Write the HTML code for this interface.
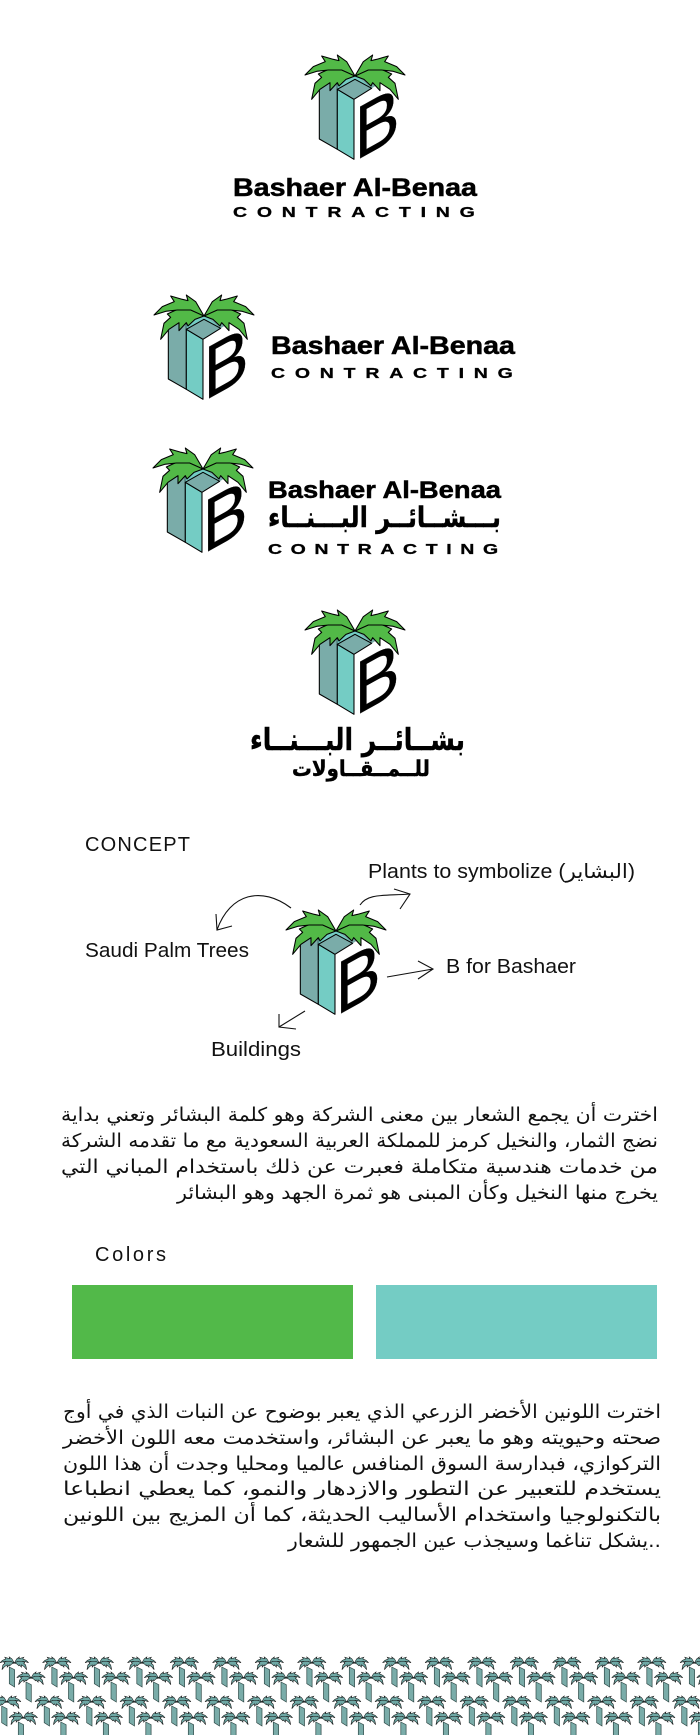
<!DOCTYPE html>
<html><head><meta charset="utf-8"><style>
html,body{margin:0;padding:0;background:#fff}
svg{display:block}
.b{font-family:"Liberation Sans",sans-serif;font-weight:700;fill:#000}
.n{font-family:"Liberation Sans","DejaVu Sans",sans-serif;fill:#111}
.ar{font-family:"DejaVu Sans",sans-serif;fill:#111;font-size:19px}
.abd{font-family:"DejaVu Sans",sans-serif;font-weight:700;fill:#000;stroke:#000;stroke-width:.4}
</style></head><body>
<svg xmlns="http://www.w3.org/2000/svg" width="700" height="1735" viewBox="0 0 700 1735">
<defs>
<g id="half">
<path d="M465,138L425,118L385,118L355,132L365,142L345,160L335,208L360,178L390,158L390,182L412,158L417,168L438,148Z"/>
<path d="M465,138L440,95L412,75L417,92L400,88L365,78L376,95L340,110L315,135L350,124L385,120L425,120Z"/>
</g>
<g id="fr"><use href="#half"/><use href="#half" transform="translate(930,0) scale(-1,1)"/></g>
<g id="logo" transform="translate(200,30) scale(.3333)" stroke="#000" stroke-width="3.2" stroke-linejoin="round">
<polygon points="480,135 560,125 570,140 515,175 465,148" fill="#7aaca9" stroke="none"/>
<polygon points="358,170 412,150 412,358 358,327" fill="#7aaca9"/>
<polygon points="412,150 465,135 512,172 462,208 412,185" fill="#74ccc4" stroke="none"/>
<polygon points="412,178 462,208 462,388 412,358" fill="#74ccc4"/>
<text transform="matrix(.9,-.5,0,1,464,394)" font-family="Liberation Sans" font-size="225" fill="#000" stroke-width="1">B</text>
<use href="#fr" fill="#52b947"/>
<polygon points="412,178 465,148 515,175 462,208" fill="#7aaca9"/>
</g>
<g id="p">
<polygon points="-5,10 .3,12.7 .3,30 -5,26.7" fill="#7aaca9" stroke="#2f4a48" stroke-width=".7"/>
<g transform="scale(.095) translate(-465,-75)" fill="#6fa8a5" stroke="#111" stroke-width="6"><use href="#fr"/></g>
</g>
<g id="c2"><use href="#p"/><use href="#p" x="42.5"/></g>
<g id="c4"><use href="#c2"/><use href="#c2" x="85"/></g>
<g id="c8"><use href="#c4"/><use href="#c4" x="170"/></g>
<g id="c16"><use href="#c8"/><use href="#c8" x="340"/></g>
</defs>

<!-- logo 1 -->
<use href="#logo"/>
<text class="b" x="233" y="196" font-size="25" textLength="244" lengthAdjust="spacingAndGlyphs" stroke="#000" stroke-width=".5">Bashaer Al-Benaa</text>
<text class="b" transform="translate(233,217) scale(1.3,1)" font-size="15" textLength="186" lengthAdjust="spacing" stroke="#000" stroke-width=".3">CONTRACTING</text>

<!-- logo 2 -->
<use href="#logo" transform="translate(-151,240)"/>
<text class="b" x="271" y="354" font-size="25" textLength="244" lengthAdjust="spacingAndGlyphs" stroke="#000" stroke-width=".5">Bashaer Al-Benaa</text>
<text class="b" transform="translate(271,378) scale(1.3,1)" font-size="15" textLength="186" lengthAdjust="spacing" stroke="#000" stroke-width=".3">CONTRACTING</text>

<!-- logo 3 -->
<use href="#logo" transform="translate(-152,393)"/>
<text class="b" x="268" y="498" font-size="24" textLength="233" lengthAdjust="spacingAndGlyphs" stroke="#000" stroke-width=".5">Bashaer Al-Benaa</text>
<text class="abd" x="501" y="527" font-size="28" direction="rtl" textLength="233" lengthAdjust="spacingAndGlyphs">بـــشــائــر البـــنــاء</text>
<text class="b" transform="translate(268,554) scale(1.3,1)" font-size="15" textLength="177" lengthAdjust="spacing" stroke="#000" stroke-width=".3">CONTRACTING</text>

<!-- logo 4 -->
<use href="#logo" transform="translate(0,555)"/>
<text class="abd" x="465" y="750" font-size="30" direction="rtl" textLength="215" lengthAdjust="spacingAndGlyphs">بشــائــر البـــنــاء</text>
<text class="abd" x="430" y="776" font-size="22" direction="rtl" textLength="138" lengthAdjust="spacingAndGlyphs">للــمــقــاولات</text>

<!-- concept -->
<text class="n" x="85" y="851" font-size="20" textLength="105" lengthAdjust="spacing">CONCEPT</text>
<use href="#logo" transform="translate(-19,855)"/>
<text class="n" x="368" y="878" font-size="20" textLength="267" lengthAdjust="spacingAndGlyphs">Plants to symbolize (البشاير)</text>
<text class="n" x="85" y="957" font-size="20" textLength="164" lengthAdjust="spacingAndGlyphs">Saudi Palm Trees</text>
<text class="n" x="446" y="973" font-size="20" textLength="130" lengthAdjust="spacingAndGlyphs">B for Bashaer</text>
<text class="n" x="211" y="1056" font-size="20" textLength="90" lengthAdjust="spacingAndGlyphs">Buildings</text>
<g fill="none" stroke="#111" stroke-width="1.1">
<path d="M291,908C262,886 230,893 217,930M216,914L217,930L232,926"/>
<path d="M360,905C368,893 385,896 410,894M394,889L410,894L400,909"/>
<path d="M387,977L433,969M418,961L433,969L418,979"/>
<path d="M305,1011L279,1027M279,1014L279,1027L296,1029"/>
</g>

<!-- paragraph 1 -->
<text class="ar" direction="rtl" x="658" y="1121" textLength="597" lengthAdjust="spacingAndGlyphs">اخترت أن يجمع الشعار بين معنى الشركة وهو كلمة البشائر وتعني بداية</text>
<text class="ar" direction="rtl" x="658" y="1147" textLength="597" lengthAdjust="spacingAndGlyphs">نضج الثمار، والنخيل كرمز للمملكة العربية السعودية مع ما تقدمه الشركة</text>
<text class="ar" direction="rtl" x="658" y="1173" textLength="597" lengthAdjust="spacingAndGlyphs">من خدمات هندسية متكاملة فعبرت عن ذلك باستخدام المباني التي</text>
<text class="ar" direction="rtl" x="658" y="1199" textLength="481" lengthAdjust="spacingAndGlyphs">يخرج منها النخيل وكأن المبنى هو ثمرة الجهد وهو البشائر</text>

<!-- colors -->
<text class="n" x="95" y="1261" font-size="20" textLength="71" lengthAdjust="spacing">Colors</text>
<rect x="72" y="1285" width="281" height="74" fill="#52b949"/>
<rect x="376" y="1285" width="281" height="74" fill="#74ccc4"/>

<!-- paragraph 2 -->
<text class="ar" direction="rtl" x="661" y="1418" textLength="598" lengthAdjust="spacingAndGlyphs">اخترت اللونين الأخضر الزرعي الذي يعبر بوضوح عن النبات الذي في أوج</text>
<text class="ar" direction="rtl" x="661" y="1444" textLength="598" lengthAdjust="spacingAndGlyphs">صحته وحيويته وهو ما يعبر عن البشائر، واستخدمت معه اللون الأخضر</text>
<text class="ar" direction="rtl" x="661" y="1470" textLength="598" lengthAdjust="spacingAndGlyphs">التركوازي، فبدارسة السوق المنافس عالميا ومحليا وجدت أن هذا اللون</text>
<text class="ar" direction="rtl" x="661" y="1495" textLength="598" lengthAdjust="spacingAndGlyphs">يستخدم للتعبير عن التطور والازدهار والنمو، كما يعطي انطباعا</text>
<text class="ar" direction="rtl" x="661" y="1521" textLength="598" lengthAdjust="spacingAndGlyphs">بالتكنولوجيا واستخدام الأساليب الحديثة، كما أن المزيج بين اللونين</text>
<text class="ar" direction="rtl" x="661" y="1547" textLength="373" lengthAdjust="spacingAndGlyphs">..يشكل تناغما وسيجذب عين الجمهور للشعار</text>

<!-- palm pattern -->
<use href="#c16" x="14.3" y="1657"/><use href="#c2" x="694.3" y="1657"/>
<use href="#c16" x="31" y="1672"/><use href="#c2" x="711" y="1672"/>
<use href="#c16" x="-35.8" y="1696"/><use href="#c4" x="644.2" y="1696"/>
<use href="#c16" x="-19.2" y="1712"/><use href="#c4" x="660.8" y="1712"/>
</svg>
</body></html>
